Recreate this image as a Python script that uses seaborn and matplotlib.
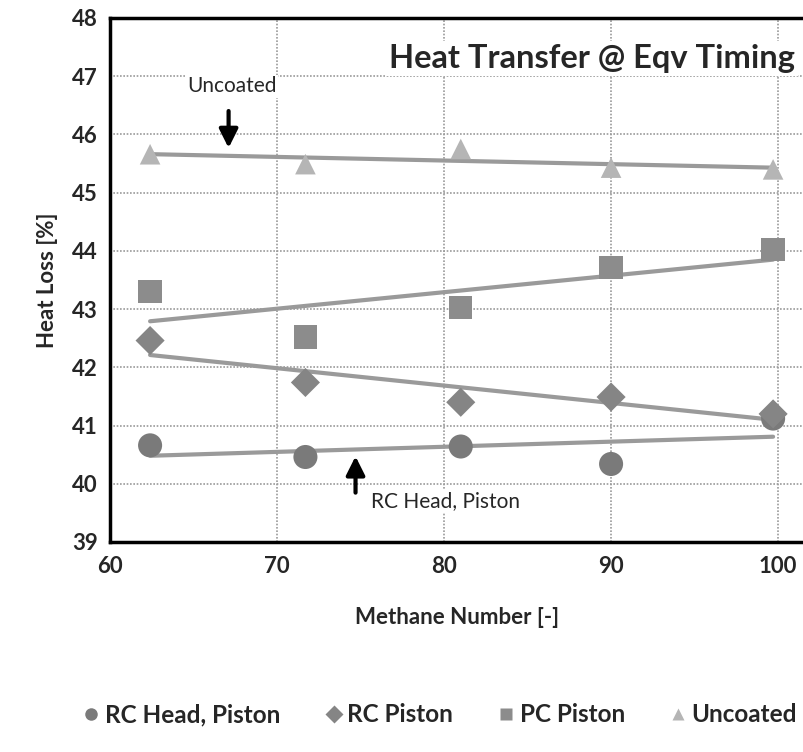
import numpy as np
import pandas as pd
import matplotlib
matplotlib.use("Agg")
import matplotlib.pyplot as plt
import seaborn as sns
from matplotlib.lines import Line2D

methane = [62.4, 71.7, 81.0, 90.0, 99.7]
rc_head_piston = [40.66, 40.46, 40.64, 40.34, 41.12]
rc_piston = [42.46, 41.74, 41.40, 41.49, 41.20]
pc_piston = [43.30, 42.52, 43.03, 43.72, 44.02]
uncoated = [45.66, 45.49, 45.75, 45.43, 45.40]
series_names = ["RC Head, Piston", "RC Piston", "PC Piston", "Uncoated"]
yticks = [39, 40, 41, 42, 43, 44, 45, 46, 47, 48]
xticks = [60, 70, 80, 90, 100]

sns.set_style("white")
plt.rcParams['font.family'] = ['Lato', 'DejaVu Sans']

df = pd.DataFrame({
    "Methane": methane * 4,
    "Heat": rc_head_piston + rc_piston + pc_piston + uncoated,
    "Series": sum([[n] * len(methane) for n in series_names], []),
})

markers = {"RC Head, Piston": "o", "RC Piston": "D", "PC Piston": "s", "Uncoated": "^"}
colors = {"RC Head, Piston": "#7a7a7a", "RC Piston": "#858585", "PC Piston": "#8c8c8c", "Uncoated": "#b5b5b5"}
sizes = {"RC Head, Piston": 300, "RC Piston": 220, "PC Piston": 280, "Uncoated": 220}

fig = plt.figure(figsize=(8.04, 7.52), dpi=100)
ax = fig.add_axes([110/804, 1-542/752, 694/804, 524/752])

for name in series_names:
    sub = df[df.Series == name]
    sns.regplot(data=sub, x="Methane", y="Heat", ax=ax, scatter=False, ci=None,
                line_kws=dict(color="#9a9a9a", lw=3, zorder=2))
for name in series_names:
    sub = df[df.Series == name]
    sns.scatterplot(data=sub, x="Methane", y="Heat", ax=ax, marker=markers[name],
                    color=colors[name], s=sizes[name], edgecolor="none", zorder=3,
                    label=name, legend=False)

ax.set_xlim(60, 101.55)
ax.set_ylim(39, 48)
ax.set_xticks(xticks)
ax.set_xticks(np.arange(60, 102, 2), minor=True)
ax.set_yticks(yticks)
ax.grid(True, which="major", color="#9a9a9a", linestyle=(0, (1, 1)), lw=1.2)
ax.set_axisbelow(True)
for s in ["left", "bottom", "top"]:
    ax.spines[s].set_color("black")
    ax.spines[s].set_linewidth(2.5)
ax.spines["right"].set_visible(False)
ax.tick_params(axis="both", which="major", direction="out", length=6, width=2, color="black",
               labelsize=16)
ax.tick_params(axis="x", which="major", pad=4)
ax.tick_params(axis="y", which="major", pad=3)
ax.tick_params(axis="x", which="minor", direction="out", length=5, width=1.5, color="black")
for lab in ax.get_xticklabels() + ax.get_yticklabels():
    lab.set_fontweight("bold")

ax.set_xlabel("Methane Number [-]", fontsize=16, fontweight="bold", labelpad=22)
ax.set_ylabel("Heat Loss [%]", fontsize=16, fontweight="bold", labelpad=10)

ax.text(101.0, 47.3, "Heat Transfer @ Eqv Timing", ha="right", va="center", fontsize=23.5,
        fontweight="bold", bbox=dict(facecolor="white", edgecolor="none", pad=2), zorder=4)

ax.text(67.3, 46.83, "Uncoated", ha="center", va="center", fontsize=15,
        bbox=dict(facecolor="white", edgecolor="none", pad=1), zorder=4)
ax.annotate("", xy=(67.1, 45.72), xytext=(67.1, 46.45),
            arrowprops=dict(arrowstyle="-|>", color="black", lw=3, mutation_scale=28), zorder=5)

ax.text(75.6, 39.7, "RC Head, Piston", ha="left", va="center", fontsize=15,
        bbox=dict(facecolor="white", edgecolor="none", pad=1), zorder=4)
ax.annotate("", xy=(74.7, 40.52), xytext=(74.7, 39.8),
            arrowprops=dict(arrowstyle="-|>", color="black", lw=3, mutation_scale=28), zorder=5)

handles = []
for name in series_names:
    handles.append(Line2D([], [], marker=markers[name], color=colors[name], ls="none",
                          markersize=9, markeredgecolor="none"))
leg = fig.legend(handles, series_names, loc="center", bbox_to_anchor=(0.545, 1-715/752), ncol=4,
                 frameon=False, fontsize=17.5, handletextpad=0.05, columnspacing=1.7,
                 handlelength=1.0)
for t in leg.get_texts():
    t.set_fontweight("bold")

fig.savefig("out.png", dpi=100)
